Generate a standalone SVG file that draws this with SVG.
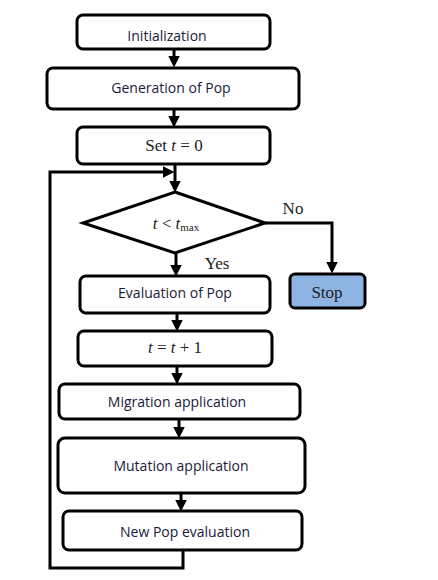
<svg xmlns="http://www.w3.org/2000/svg" width="438" height="580" viewBox="0 0 438 580">
<style>
.box{fill:#fff;stroke:#000;stroke-width:3}
.lbl{font-family:"Open Sans","Liberation Sans",sans-serif;font-size:14px;fill:#1a1a3a;text-anchor:middle}
.ser{font-family:"Liberation Serif",serif;font-size:17px;fill:#222;text-anchor:middle}
.ln{fill:none;stroke:#000;stroke-width:3}
</style>
<defs>
<marker id="ah" markerWidth="4" markerHeight="4" refX="2.5" refY="2" orient="auto" markerUnits="strokeWidth">
<path d="M0,0 L4,2 L0,4 z" fill="#000"/>
</marker>
</defs>
<rect width="438" height="580" fill="#fff"/>
<g id="connectors">
<path class="ln" d="M174,49 V63" marker-end="url(#ah)"/>
<path class="ln" d="M174,109 V123" marker-end="url(#ah)"/>
<path class="ln" d="M175,164 V188" marker-end="url(#ah)"/>
<path class="ln" d="M183,550 V568 H50 V172 H170" marker-end="url(#ah)"/>
<path class="ln" d="M265,223 H332 V269" marker-end="url(#ah)"/>
<path class="ln" d="M176,253 V272" marker-end="url(#ah)"/>
<path class="ln" d="M177,313 V327" marker-end="url(#ah)"/>
<path class="ln" d="M177,366 V380" marker-end="url(#ah)"/>
<path class="ln" d="M179,419 V434" marker-end="url(#ah)"/>
<path class="ln" d="M181,493 V507" marker-end="url(#ah)"/>
<text x="293" y="214" class="ser">No</text>
<text x="217" y="269" class="ser">Yes</text>
</g>
<g id="init"><rect class="box" x="77" y="15" width="193" height="34" rx="6"/><text class="lbl" x="167" y="41">Initialization</text></g>
<g id="gen"><rect class="box" x="47" y="68" width="252" height="41" rx="6"/><text class="lbl" x="171" y="93">Generation of Pop</text></g>
<g id="set"><rect class="box" x="77" y="127" width="193" height="37" rx="6"/><text class="ser" x="174" y="151">Set <tspan font-style="italic">t</tspan> = 0</text></g>
<g id="cond"><polygon class="box" points="175,192 265,223 175,253 83,223"/><text class="ser" x="176" y="229" font-size="16"><tspan font-style="italic">t</tspan> &lt; <tspan font-style="italic">t</tspan><tspan font-size="11" dy="2">max</tspan></text></g>
<g id="stop"><rect x="290" y="274" width="75" height="34" rx="5" fill="#8eb4e3" stroke="#000" stroke-width="3"/><text class="ser" x="327" y="298">Stop</text></g>
<g id="eval"><rect class="box" x="80" y="276" width="190" height="37" rx="6"/><text class="lbl" x="175" y="298">Evaluation of Pop</text></g>
<g id="inc"><rect class="box" x="78" y="331" width="194" height="35" rx="6"/><text class="ser" x="175" y="353"><tspan font-style="italic">t</tspan> = <tspan font-style="italic">t</tspan> + 1</text></g>
<g id="mig"><rect class="box" x="59" y="384" width="241" height="35" rx="6"/><text class="lbl" x="177" y="407">Migration application</text></g>
<g id="mut"><rect class="box" x="58" y="438" width="247" height="55" rx="7"/><text class="lbl" x="181" y="471">Mutation application</text></g>
<g id="newpop"><rect class="box" x="63" y="511" width="239" height="39" rx="6"/><text class="lbl" x="185" y="537">New Pop evaluation</text></g>
</svg>
